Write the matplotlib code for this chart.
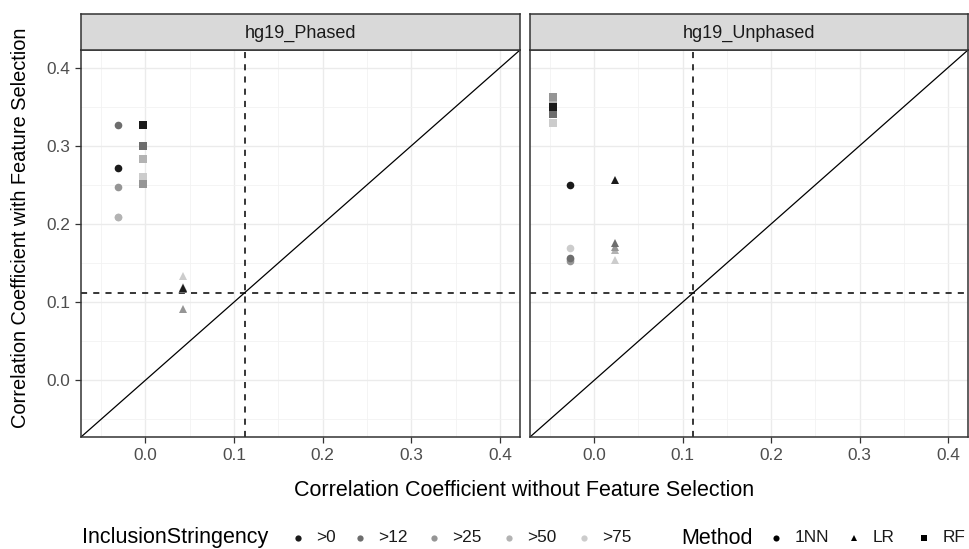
import matplotlib.pyplot as plt
from matplotlib.lines import Line2D

plt.rcParams['font.family'] = ['Liberation Sans', 'DejaVu Sans']

# Data
panels = ['hg19_Phased', 'hg19_Unphased']
methods = ['1NN', 'LR', 'RF']
stringency = ['>0', '>12', '>25', '>50', '>75']

# x value (correlation without feature selection) per method, per panel
phased_x = [-0.031, 0.043, -0.003]
unphased_x = [-0.027, 0.024, -0.047]

# y values (correlation with feature selection): rows = method, cols = stringency
phased_y = [
    [0.271, 0.327, 0.247, 0.209, 0.209],   # 1NN
    [0.118, 0.117, 0.091, 0.119, 0.134],   # LR
    [0.327, 0.300, 0.251, 0.283, 0.260],   # RF
]
unphased_y = [
    [0.250, 0.156, 0.152, 0.155, 0.169],   # 1NN
    [0.256, 0.175, 0.171, 0.167, 0.154],   # LR
    [0.350, 0.340, 0.362, 0.356, 0.329],   # RF
]

baseline = 0.112
lims = (-0.0725, 0.4225)

greys = ['#1A1A1A', '#6D6D6D', '#959595', '#B3B3B3', '#CCCCCC']
shapes = {'1NN': ('o', 5.5), 'LR': ('^', 6), 'RF': ('s', 5.2)}

small = 12.4
big = 15.5

W, H = 969, 549
fig = plt.figure(figsize=(W / 100, H / 100), dpi=100)


def rect(l, t, r, b):
    return [l / W, 1 - b / H, (r - l) / W, (b - t) / H]


panel_px = [(81, 520), (530, 968)]
data = [(phased_x, phased_y), (unphased_x, unphased_y)]

for i, name in enumerate(panels):
    l, r = panel_px[i]
    ax = fig.add_axes(rect(l, 50, r, 437))
    xs, ys = data[i]

    ax.set_xlim(lims)
    ax.set_ylim(lims)
    ax.set_xticks([0.0, 0.1, 0.2, 0.3, 0.4])
    ax.set_yticks([0.0, 0.1, 0.2, 0.3, 0.4])
    ax.set_xticks([-0.05, 0.05, 0.15, 0.25, 0.35], minor=True)
    ax.set_yticks([-0.05, 0.05, 0.15, 0.25, 0.35], minor=True)
    ax.grid(which='major', color='#EBEBEB', linewidth=1.0)
    ax.grid(which='minor', color='#F2F2F2', linewidth=0.6)
    ax.set_axisbelow(True)
    ax.tick_params(which='minor', length=0)
    ax.tick_params(which='major', length=4.3, width=0.9, color='#333333',
                   labelcolor='#4D4D4D', labelsize=small, pad=3.5)
    if i == 1:
        ax.tick_params(axis='y', which='major', length=0, labelleft=False)
    for sp in ax.spines.values():
        sp.set_color('#333333')
        sp.set_linewidth(1.1)

    # reference lines
    ax.axvline(baseline, color='black', linestyle=(0, (4, 4)), linewidth=1.1)
    ax.axhline(baseline, color='black', linestyle=(0, (4, 4)), linewidth=1.1)
    ax.plot(lims, lims, color='black', linewidth=0.9)

    for m, meth in enumerate(methods):
        mk, ms = shapes[meth]
        for s in reversed(range(len(stringency))):
            ax.plot(xs[m], ys[m][s], linestyle='none', marker=mk,
                    markersize=ms, color=greys[s], markeredgewidth=0)

    # facet strip
    st = fig.add_axes(rect(l, 14, r, 50))
    st.set_facecolor('#D9D9D9')
    st.set_xticks([])
    st.set_yticks([])
    for sp in st.spines.values():
        sp.set_color('#333333')
        sp.set_linewidth(1.1)
    st.text(0.5, 0.47, name, ha='center', va='center', fontsize=13,
            color='#1A1A1A', transform=st.transAxes)

fig.text(524 / W, 1 - 490 / H, 'Correlation Coefficient without Feature Selection',
         ha='center', va='center', fontsize=big)
fig.text(21 / W, 1 - 228 / H, 'Correlation Coefficient with Feature Selection',
         ha='center', va='center', fontsize=14.4, rotation=90)

# legend along the bottom
ly = 1 - 538 / H
fig.text(82 / W, ly, 'InclusionStringency', ha='left', va='center', fontsize=big)
key_x = [298, 360, 434, 509, 584]
for kx, lab, c in zip(key_x, stringency, greys):
    fig.add_artist(Line2D([kx / W], [ly], marker='o', markersize=4.5,
                          color=c, markeredgewidth=0, transform=fig.transFigure))
    fig.text((kx + 18) / W, ly, lab, ha='left', va='center', fontsize=small,
             color='#1A1A1A')

fig.text(681 / W, ly, 'Method', ha='left', va='center', fontsize=big)
meth_x = [776, 854, 924]
for kx, meth in zip(meth_x, methods):
    mk, ms = shapes[meth]
    fig.add_artist(Line2D([kx / W], [ly], marker=mk, markersize=ms * 0.8,
                          color='black', markeredgewidth=0,
                          transform=fig.transFigure))
    fig.text((kx + 19) / W, ly, meth, ha='left', va='center', fontsize=small,
             color='#1A1A1A')

fig.savefig('out.png', dpi=100)
